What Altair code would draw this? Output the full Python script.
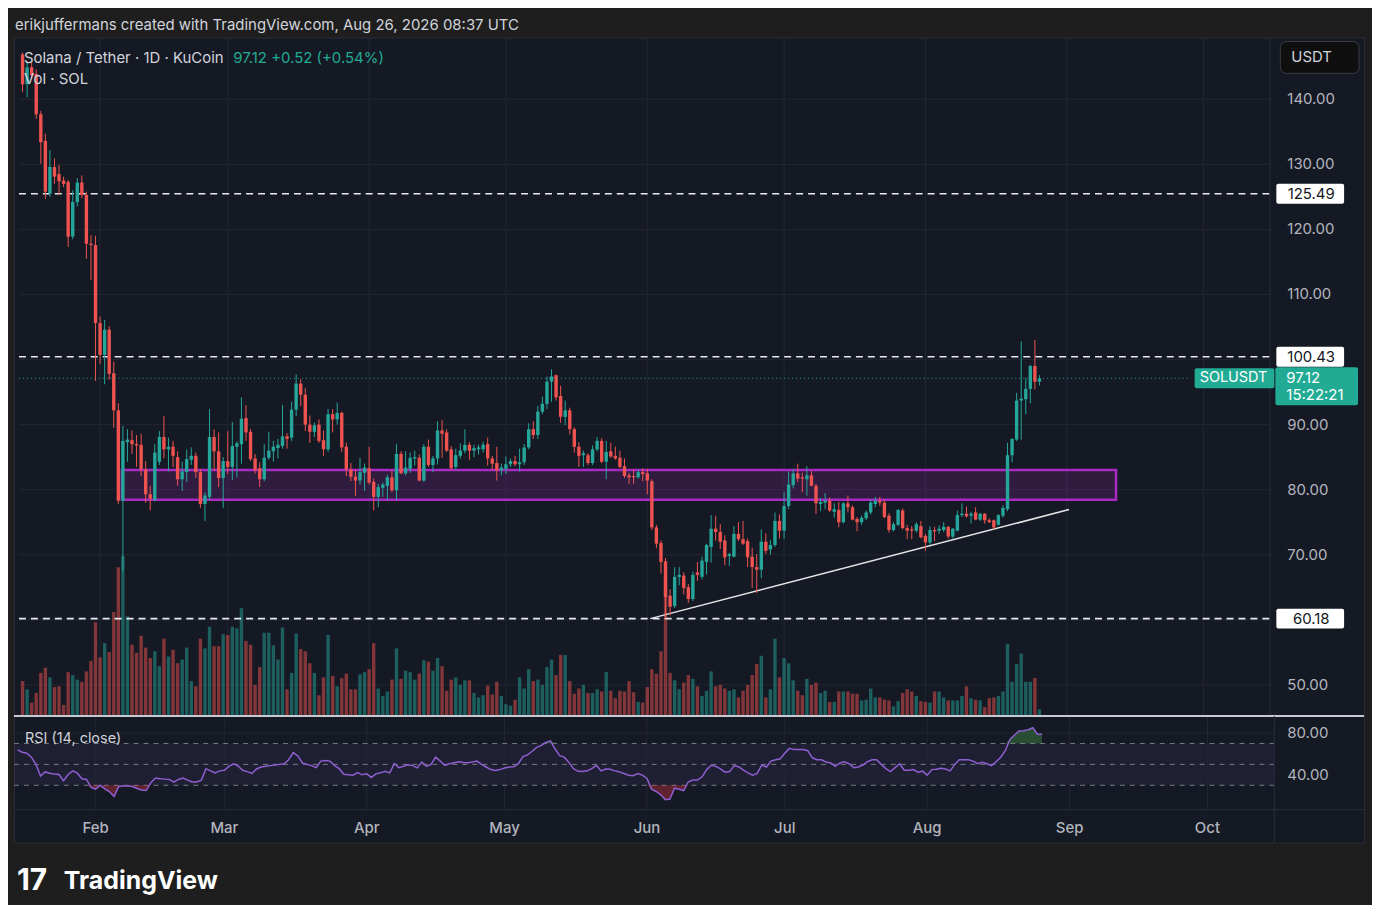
import altair as alt
import pandas as pd

# ---------------- data (SOL/USDT 1D, KuCoin) ----------------
FIRST_T = 14  # Jan 15 = day 14 of 2026 (Jan 1 = 0)

JAN = [(146.9,147.2,141.1,142.3),(142.3,145.6,140.3,144.9),(144.9,145.8,143.3,143.7),(143.9,144.6,137.0,137.7),
       (137.7,138.2,130.1,133.4),(133.6,134.7,124.7,125.8),(125.5,132.2,125.0,129.6),(129.6,130.9,127.0,128.1),
       (128.5,129.9,125.3,127.4),(127.5,128.1,126.5,127.0),(127.3,127.6,117.3,118.9),(118.9,126.0,118.5,124.2),
       (124.2,127.9,123.5,127.2),(127.2,128.3,124.8,125.3),(125.3,125.8,115.5,117.8),(117.8,119.1,112.2,117.6),
       (117.6,119.0,96.7,105.6)]
FEB = [(105.6,106.6,99.3,100.7),(100.7,106.1,96.2,104.6),(104.6,105.1,96.9,97.8),(97.9,99.7,89.5,92.2),
       (92.2,93.3,77.8,78.3),(78.3,89.8,67.5,87.5),(87.3,89.3,84.3,87.7),(87.6,89.1,85.5,87.0),
       (87.0,88.4,83.5,86.8),(86.9,88.6,82.1,83.1),(83.1,84.4,78.0,79.3),(79.3,80.6,76.8,78.6),
       (78.4,87.0,78.2,85.7),(84.3,89.0,83.8,88.1),(88.1,91.3,84.8,86.2),(86.2,88.0,82.8,86.6),
       (86.6,87.5,83.5,85.2),(85.0,85.9,80.6,81.6),(81.6,84.3,79.8,82.8),(82.7,86.2,81.2,84.7),
       (84.6,86.5,83.8,85.2),(85.2,85.7,81.8,82.7),(82.7,83.2,77.2,77.8),(77.8,79.6,75.2,79.1),
       (78.9,92.4,78.4,88.1),(88.1,89.3,82.9,85.9),(85.9,88.8,80.4,81.8),(81.8,85.0,77.2,84.4)]
MAR = [(84.4,89.0,82.4,83.5),(83.5,90.4,81.5,86.7),(86.6,87.4,81.9,87.1),(87.0,94.2,84.0,90.9),
       (91.0,93.0,87.5,88.8),(88.9,89.3,84.4,84.7),(84.8,85.5,82.5,83.0),(83.3,84.2,80.4,81.6),
       (81.6,87.0,81.3,84.9),(84.9,88.9,84.6,86.0),(85.9,87.5,84.3,86.6),(86.4,87.8,84.8,86.9),
       (86.7,93.0,86.3,88.2),(88.2,88.7,86.3,87.8),(88.0,93.5,87.5,92.3),(92.3,97.7,91.3,96.3),
       (96.3,97.0,92.8,94.6),(94.6,95.6,89.0,90.0),(90.0,91.4,87.2,88.9),(88.9,90.3,88.1,89.9),
       (90.0,90.8,87.2,87.5),(87.6,89.1,85.2,86.2),(86.2,92.4,85.8,91.6),(91.6,92.4,88.8,90.8),
       (90.8,93.4,90.0,91.8),(91.8,92.0,85.8,86.5),(86.6,87.2,82.1,83.1),(83.1,84.1,81.3,82.0),
       (82.0,83.1,79.0,81.4),(81.4,84.9,80.8,82.7),(82.6,84.0,79.8,83.4)]
APR = [(83.3,86.6,80.8,81.1),(81.2,81.7,76.8,78.9),(78.9,80.9,77.3,80.4),(80.3,81.1,78.9,80.8),
       (80.6,82.3,78.4,81.9),(81.9,83.0,79.6,79.9),(79.9,87.0,78.4,85.5),(85.5,85.9,82.4,82.5),
       (82.5,85.9,82.2,83.4),(83.2,85.7,82.6,84.9),(84.8,86.0,83.7,85.0),(84.9,85.4,81.3,81.4),
       (81.4,87.0,81.2,86.6),(86.6,87.7,83.5,83.8),(83.8,85.2,82.7,84.8),(84.8,90.5,83.9,89.1),
       (89.1,90.7,84.9,88.6),(88.8,89.3,85.8,86.0),(86.2,86.7,83.0,83.3),(83.5,86.3,83.0,85.3),
       (85.2,87.1,84.8,86.0),(86.0,89.3,85.6,86.9),(86.9,87.3,84.6,86.0),(86.0,86.9,85.0,86.4),
       (86.2,86.9,85.4,86.5),(86.2,87.4,85.7,86.9),(87.0,88.0,83.7,84.8),(84.8,85.2,83.0,84.0),
       (84.1,86.6,81.4,83.0),(83.0,84.0,82.2,83.4)]
MAY = [(83.2,85.1,82.4,83.9),(83.9,84.8,83.5,84.4),(84.4,85.2,83.6,83.9),(83.9,86.3,82.8,84.2),
       (84.2,87.0,83.8,86.5),(86.5,90.2,86.2,89.3),(89.3,90.5,87.8,88.4),(88.4,92.9,87.8,92.0),
       (92.0,94.3,91.6,93.2),(93.2,97.4,92.4,96.6),(96.6,98.5,93.5,97.4),(97.6,97.7,93.7,94.2),
       (94.4,96.0,90.3,91.2),(91.2,93.7,89.9,92.2),(92.2,92.6,88.5,89.3),(89.3,89.6,85.7,86.6),
       (86.6,87.3,83.5,85.2),(85.3,86.0,83.5,85.6),(85.3,85.6,83.8,84.1),(84.1,86.8,83.8,86.2),
       (86.2,88.1,85.9,87.5),(87.5,87.9,84.1,84.3),(84.3,87.5,81.6,85.8),(85.9,87.2,84.9,85.1),
       (85.2,86.6,84.6,84.8),(84.9,86.0,83.3,83.5),(83.6,84.8,81.8,82.1),(82.2,82.6,80.9,81.9),
       (82.1,83.1,80.9,81.9),(81.9,83.1,81.7,82.7),(82.7,83.3,81.3,82.4)]
JUN = [(82.5,83.2,79.3,81.4),(81.3,81.6,73.8,74.2),(74.2,74.6,71.0,71.7),(71.8,72.2,67.1,68.9),
       (69.0,69.5,60.2,63.5),(63.7,64.7,60.7,62.0),(62.1,68.1,61.8,66.6),(66.6,68.1,65.3,66.9),
       (66.8,67.3,63.9,64.9),(65.0,65.5,62.6,63.2),(63.2,67.4,62.9,66.9),(67.3,68.9,66.0,66.9),
       (66.6,69.7,66.2,69.1),(68.9,71.7,67.0,71.5),(71.2,76.1,68.8,74.0),(74.0,76.0,72.2,73.5),
       (73.5,74.7,70.9,72.0),(72.2,73.0,68.4,69.6),(69.8,70.3,68.3,70.1),(69.7,74.4,69.6,73.2),
       (73.2,75.0,72.1,72.4),(72.4,75.2,71.5,71.7),(72.1,72.5,68.1,69.6),(69.7,71.1,64.9,68.1),
       (68.1,70.1,64.1,67.7),(67.7,73.9,66.4,72.0),(72.0,73.3,70.1,70.6),(70.8,72.3,70.0,71.5),
       (71.5,76.5,71.2,75.2),(75.2,76.2,72.5,73.7)]
JUL = [(73.7,79.6,72.4,77.5),(77.5,82.8,77.0,80.8),(80.7,83.2,80.2,82.5),(82.5,84.0,81.2,81.7),
       (81.9,82.6,79.6,81.7),(81.6,83.6,79.1,82.2),(82.2,82.9,80.5,80.6),(80.6,80.9,76.3,77.9),
       (77.8,78.7,76.7,78.1),(78.0,79.5,77.0,78.3),(78.3,78.8,76.6,76.8),(76.6,77.9,75.7,77.0),
       (76.9,78.1,74.2,75.0),(75.0,78.1,74.8,77.9),(77.9,79.1,76.5,77.3),(77.3,77.6,75.3,75.4),
       (75.5,75.8,73.6,75.0),(75.0,76.0,74.6,75.7),(75.6,76.8,75.3,76.5),(76.5,78.5,76.2,78.0),
       (77.8,78.9,77.3,78.3),(78.3,78.9,77.5,78.0),(78.0,78.5,75.6,75.8),(76.0,76.4,73.4,73.8),
       (73.8,75.0,73.6,74.7),(74.6,77.0,74.4,76.9),(76.8,77.1,73.9,74.1),(74.1,74.6,72.4,73.7),
       (73.9,74.4,72.4,73.7),(73.7,75.0,73.4,74.7),(74.4,75.2,72.5,72.7)]
AUG = [(72.9,73.2,70.6,71.9),(71.9,74.4,71.5,73.8),(73.8,74.3,72.1,73.6),(73.7,74.5,73.2,74.0),
       (73.8,75.0,73.5,74.3),(74.3,74.4,72.5,72.8),(72.8,74.1,72.5,74.0),(73.7,76.8,73.6,76.1),
       (76.1,77.9,75.8,76.3),(76.3,77.4,75.7,75.9),(76.0,76.6,74.8,76.3),(76.5,77.3,75.3,75.4),
       (75.4,76.4,75.2,76.3),(76.3,76.4,74.8,75.3),(75.3,75.6,74.9,75.0),(75.3,75.4,73.9,74.2),
       (74.6,76.2,74.5,76.1),(76.0,77.6,75.7,77.2),(77.0,87.2,76.7,85.3),(85.3,87.9,84.2,87.8),
       (87.7,94.9,87.5,93.7),(93.7,102.8,87.7,94.0),(93.9,97.2,91.6,95.5),(95.5,99.2,93.3,99.0),
       (99.0,103.0,95.4,96.6),(96.6,97.6,96.0,97.12)]

VOL_JAN = [47,36,18,31,58,65,52,39,40,15,59,55,49,46,60,74,126]
VOL_FEB = [79,98,86,140,200,215,134,96,85,108,92,78,87,67,104,80,89,71,76,92,47,40,104,91,120,94,94,110]
VOL_MAR = [109,120,118,145,101,96,42,66,112,112,95,76,119,36,58,111,90,87,71,58,28,52,109,54,40,51,57,36,36,56,59]
VOL_APR = [63,98,37,27,33,49,91,50,61,59,49,57,75,73,61,78,67,34,49,52,42,48,48,31,25,28,41,29,46,27]
VOL_MAY = [16,14,22,52,37,63,47,49,42,66,76,55,82,82,47,30,37,42,31,31,36,33,59,34,24,34,33,47,32,19,18]
VOL_JUN = [39,63,57,87,187,58,48,36,45,55,50,40,27,34,60,40,42,37,34,36,25,34,42,55,70,81,25,36,104,52]
VOL_JUL = [78,71,48,34,28,50,42,45,31,34,19,19,33,33,33,30,30,21,22,37,25,25,22,21,13,20,31,36,33,27,20]
VOL_AUG = [19,18,33,33,25,21,21,21,27,40,24,22,21,12,24,25,27,33,97,46,70,84,46,46,51,9]

RSI_JAN = [63.8,61.6,60.6,56.9,50.0,38.8,42.8,41.6,40.9,40.3,34.4,40.3,43.8,41.6,36.3,35.6,28.1]
RSI_FEB = [26.3,30.0,26.6,23.8,19.4,28.8,29.4,29.4,28.8,26.9,25.6,25.0,32.5,36.9,36.3,35.9,35.6,33.1,35.6,36.9,
           35.0,33.1,33.1,35.0,45.9,43.8,41.9,43.8]
RSI_MAR = [44.4,48.1,50.6,48.4,44.4,43.1,41.3,45.6,47.5,48.1,48.8,49.4,50.0,50.6,54.4,61.3,58.1,51.3,50.0,48.8,
           46.9,53.1,53.8,53.1,48.8,45.9,40.6,40.0,39.7,42.2,40.0]
RSI_APR = [40.9,37.5,40.9,41.9,43.4,41.9,50.6,46.9,48.1,49.7,48.8,46.6,52.2,48.1,50.0,56.9,53.1,49.1,50.6,51.6,
           52.5,51.9,51.6,52.2,53.1,50.0,47.5,45.0,44.1,45.0]
RSI_MAY = [46.6,47.5,47.8,50.6,57.5,59.1,62.5,66.3,68.1,70.9,72.5,64.7,58.4,56.9,51.9,45.9,43.4,43.1,43.8,45.9,
           49.1,43.8,45.6,45.3,43.8,42.8,41.3,39.7,39.1,41.3,39.7]
RSI_JUN = [36.6,26.3,24.1,20.9,16.3,16.9,27.2,26.3,25.0,33.4,35.0,35.0,38.1,45.0,49.1,48.1,45.6,42.5,43.1,48.8,
           47.5,44.4,41.9,39.7,41.3,49.4,47.5,53.1,54.4,55.3]
RSI_JUL = [60.6,65.3,64.1,64.1,64.1,63.1,56.3,54.4,54.4,52.2,51.3,48.1,51.3,52.5,50.6,46.9,47.5,49.4,52.5,54.4,
           54.4,50.0,45.9,43.1,46.9,50.6,44.4,44.4,45.0,42.5,43.5]
RSI_AUG = [39.7,45.0,45.3,46.3,45.6,43.8,50.0,54.4,54.4,54.4,53.1,50.6,51.9,50.6,48.8,52.5,56.9,63.1,73.8,78.1,
           81.9,82.2,83.1,85.0,78.8,78.8]

LEVELS = [125.49, 100.43, 60.18]
LAST_PRICE = 97.12
ZONE = {"t1": 35.77, "t2": 253.8, "top": 83.03, "bot": 78.44}
TREND = {"t1": 151.65, "p1": 60.18, "t2": 243.5, "p2": 76.95}
MONTH_T = [31, 59, 90, 120, 151, 181, 212, 243, 273]
MONTH_NAMES = ["Feb", "Mar", "Apr", "May", "Jun", "Jul", "Aug", "Sep", "Oct"]
PRICE_GRID = [50, 60, 70, 80, 90, 100, 110, 120, 130, 140]
PRICE_LABELS = [50, 70, 80, 90, 110, 120, 130, 140]
RSI_TICKS = [80, 40]
RSI_LEVELS = [70, 50, 30]

# ---------------- layout constants ----------------
W, MAIN_H, RSI_H = 1355, 681, 127
T_MIN, T_MAX, T_AXIS = 13.21, 307.09, 287.56
P_DOM = [45.21, 149.49]
RSI_DOM = [-24.76, 96.19]
RSI_SEP = 6.67
VOL_DOM = [0, 912]

TEAL, RED = "#26a69a", "#ef5350"
PANE, OUTER, BORDER, GRID = "#151924", "#1e1e1e", "#2a2e39", "#222632"
TXT, AX = "#d1d4dc", "#b2b5be"

ohlc = JAN + FEB + MAR + APR + MAY + JUN + JUL + AUG
vol = VOL_JAN + VOL_FEB + VOL_MAR + VOL_APR + VOL_MAY + VOL_JUN + VOL_JUL + VOL_AUG
rsi = RSI_JAN + RSI_FEB + RSI_MAR + RSI_APR + RSI_MAY + RSI_JUN + RSI_JUL + RSI_AUG
n = min(len(ohlc), len(vol), len(rsi))

df = pd.DataFrame({
    "t": [FIRST_T + i for i in range(n)],
    "o": [r[0] for r in ohlc[:n]],
    "h": [r[1] for r in ohlc[:n]],
    "l": [r[2] for r in ohlc[:n]],
    "c": [r[3] for r in ohlc[:n]],
    "v": vol[:n],
    "rsi": rsi[:n],
})
df["dir"] = ["up" if c >= o else "down" for o, c in zip(df["o"], df["c"])]

xs = alt.Scale(domain=[T_MIN, T_MAX], nice=False, zero=False)
yP = alt.Scale(domain=P_DOM, nice=False, zero=False)
yR = alt.Scale(domain=RSI_DOM, nice=False, zero=False)
col = alt.Color("dir:N", scale=alt.Scale(domain=["up", "down"], range=[TEAL, RED]), legend=None)


def X(f):
    return alt.X(f, scale=xs, axis=None, title=None)


def YP(f):
    return alt.Y(f, scale=yP, axis=None, title=None)


def YR(f):
    return alt.Y(f, scale=yR, axis=None, title=None)


def label(text, x, y, color=TXT, size=14, align="left", weight="normal"):
    return alt.Chart(alt.Data(values=[{"s": text}])).mark_text(
        align=align, baseline="middle", color=color, fontSize=size, fontWeight=weight
    ).encode(x=alt.value(x), y=alt.value(y), text="s:N")


# ---------------- main pane ----------------
grid_h = alt.Chart(pd.DataFrame({"p": PRICE_GRID, "t1": T_MIN, "t2": T_AXIS})).mark_rule(
    color=GRID, strokeWidth=1).encode(x=X("t1:Q"), x2="t2:Q", y=YP("p:Q"))
grid_v = alt.Chart(pd.DataFrame({"t": MONTH_T, "p1": P_DOM[0], "p2": P_DOM[1]})).mark_rule(
    color=GRID, strokeWidth=1).encode(x=X("t:Q"), y=YP("p1:Q"), y2="p2:Q")
back = alt.layer(grid_h, grid_v)

volume = alt.Chart(df).mark_bar(size=3.4, opacity=0.5).encode(
    x=X("t:Q"), y=alt.Y("v:Q", scale=alt.Scale(domain=VOL_DOM, nice=False), axis=None, title=None), color=col)

zone = alt.Chart(pd.DataFrame([ZONE])).mark_rect(
    fill="#9c27b0", fillOpacity=0.2, stroke="#a82bc4", strokeWidth=2.5).encode(
    x=X("t1:Q"), x2="t2:Q", y=YP("top:Q"), y2="bot:Q")

levels = alt.Chart(pd.DataFrame({"p": LEVELS, "t1": T_MIN, "t2": T_AXIS})).mark_rule(
    color="#e8eaef", strokeWidth=1.6, strokeDash=[7, 5]).encode(x=X("t1:Q"), x2="t2:Q", y=YP("p:Q"))

trend = alt.Chart(pd.DataFrame([TREND])).mark_rule(color="#e6e6e6", strokeWidth=1.5).encode(
    x=X("t1:Q"), x2="t2:Q", y=YP("p1:Q"), y2="p2:Q")

wicks = alt.Chart(df).mark_rule(strokeWidth=1).encode(x=X("t:Q"), y=YP("l:Q"), y2="h:Q", color=col)
bodies = alt.Chart(df).mark_bar(size=3.4).encode(x=X("t:Q"), y=YP("o:Q"), y2="c:Q", color=col)

last_line = alt.Chart(pd.DataFrame({"p": [LAST_PRICE], "t1": T_MIN, "t2": 270.2})).mark_rule(
    color=TEAL, strokeWidth=1, strokeDash=[1, 3]).encode(x=X("t1:Q"), x2="t2:Q", y=YP("p:Q"))

vsep_main = alt.Chart(pd.DataFrame({"t": [T_AXIS], "p1": P_DOM[0], "p2": P_DOM[1]})).mark_rule(
    color=BORDER, strokeWidth=1).encode(x=X("t:Q"), y=YP("p1:Q"), y2="p2:Q")

plab = pd.DataFrame({"p": PRICE_LABELS})
plab["label"] = [f"{p:.2f}" for p in PRICE_LABELS]
price_labels = alt.Chart(plab).mark_text(color=AX, fontSize=15, align="left", baseline="middle").encode(
    x=alt.value(1278), y=YP("p:Q"), text="label:N")

lv = pd.DataFrame({"p": LEVELS})
lv["top"] = lv["p"] + 1.53
lv["bot"] = lv["p"] - 1.53
lv["label"] = [f"{p:.2f}" for p in LEVELS]
lv_box = alt.Chart(lv).mark_rect(fill="#ffffff", cornerRadius=2).encode(
    x=alt.value(1267), x2=alt.value(1335), y=YP("top:Q"), y2="bot:Q")
lv_txt = alt.Chart(lv).mark_text(color="#131722", fontSize=15, align="center", baseline="middle").encode(
    x=alt.value(1302), y=YP("p:Q"), text="label:N")

lp = pd.DataFrame({"p": [LAST_PRICE], "top": [98.65], "bot": [95.59], "top2": [98.81], "bot2": [92.99],
                   "p2": [94.52], "name": ["SOLUSDT"], "price": [f"{LAST_PRICE:.2f}"], "timer": ["15:22:21"]})
sym_box = alt.Chart(lp).mark_rect(fill="#22ab94", cornerRadius=2).encode(
    x=alt.value(1185), x2=alt.value(1265), y=YP("top:Q"), y2="bot:Q")
sym_txt = alt.Chart(lp).mark_text(color="#ffffff", fontSize=14.5, align="left", baseline="middle").encode(
    x=alt.value(1190), y=YP("p:Q"), text="name:N")
pr_box = alt.Chart(lp).mark_rect(fill="#22ab94", cornerRadius=2).encode(
    x=alt.value(1266), x2=alt.value(1349), y=YP("top2:Q"), y2="bot2:Q")
pr_txt = alt.Chart(lp).mark_text(color="#ffffff", fontSize=15, align="left", baseline="middle").encode(
    x=alt.value(1277), y=YP("p:Q"), text="price:N")
tm_txt = alt.Chart(lp).mark_text(color="#ffffff", fontSize=15, align="left", baseline="middle").encode(
    x=alt.value(1277), y=YP("p2:Q"), text="timer:N")

usdt_box = alt.Chart(alt.Data(values=[{}])).mark_rect(
    fill="#0f0f0f", stroke="#3a3d45", strokeWidth=1, cornerRadius=6).encode(
    x=alt.value(1271), x2=alt.value(1350), y=alt.value(4), y2=alt.value(36))

front = alt.layer(
    zone, levels, trend, wicks, bodies, last_line, vsep_main, price_labels,
    lv_box, lv_txt, sym_box, sym_txt, pr_box, pr_txt, tm_txt, usdt_box,
    label("USDT", 1282, 20, size=15),
    label("erikjuffermans created with TradingView.com, Aug 26, 2026 08:37 UTC", 1, -13, size=15),
    label("Solana / Tether · 1D · KuCoin", 10, 21, size=15),
    label("97.12  +0.52 (+0.54%)", 220, 21, color="#22ab94", size=15),
    label("Vol · SOL", 10, 42, size=15),
)

main = alt.layer(back, volume, front).resolve_scale(y="independent").properties(width=W, height=MAIN_H)

# ---------------- RSI pane ----------------
band = alt.Chart(pd.DataFrame({"t1": [T_MIN], "t2": [T_AXIS], "lo": [30], "hi": [70]})).mark_rect(
    fill="#7e57c2", fillOpacity=0.1).encode(x=X("t1:Q"), x2="t2:Q", y=YR("lo:Q"), y2="hi:Q")
rgrid_h = alt.Chart(pd.DataFrame({"r": RSI_TICKS, "t1": T_MIN, "t2": T_AXIS})).mark_rule(
    color=GRID, strokeWidth=1).encode(x=X("t1:Q"), x2="t2:Q", y=YR("r:Q"))
rgrid_v = alt.Chart(pd.DataFrame({"t": MONTH_T, "r1": RSI_SEP, "r2": RSI_DOM[1]})).mark_rule(
    color=GRID, strokeWidth=1).encode(x=X("t:Q"), y=YR("r1:Q"), y2="r2:Q")
rlev = alt.Chart(pd.DataFrame({"r": RSI_LEVELS, "t1": T_MIN, "t2": T_AXIS})).mark_rule(
    color="#787b86", strokeWidth=1, strokeDash=[5, 5]).encode(x=X("t1:Q"), x2="t2:Q", y=YR("r:Q"))
ob = alt.Chart(df).transform_calculate(hi="max(datum.rsi, 70)", base="70").mark_area(
    color="#4caf50", opacity=0.35).encode(x=X("t:Q"), y=YR("hi:Q"), y2="base:Q")
os_ = alt.Chart(df).transform_calculate(lo="min(datum.rsi, 30)", base="30").mark_area(
    color="#f23645", opacity=0.35).encode(x=X("t:Q"), y=YR("lo:Q"), y2="base:Q")
rline = alt.Chart(df).mark_line(color="#8e5fd0", strokeWidth=1.5).encode(x=X("t:Q"), y=YR("rsi:Q"))
sep_top = alt.Chart(pd.DataFrame({"t1": [T_MIN], "t2": [T_MAX], "r": [RSI_DOM[1]]})).mark_rule(
    color="#c8cad1", strokeWidth=2).encode(x=X("t1:Q"), x2="t2:Q", y=YR("r:Q"))
sep_time = alt.Chart(pd.DataFrame({"t1": [T_MIN], "t2": [T_MAX], "r": [RSI_SEP]})).mark_rule(
    color=BORDER, strokeWidth=1).encode(x=X("t1:Q"), x2="t2:Q", y=YR("r:Q"))
vsep_rsi = alt.Chart(pd.DataFrame({"t": [T_AXIS], "r1": RSI_DOM[0], "r2": RSI_DOM[1]})).mark_rule(
    color=BORDER, strokeWidth=1).encode(x=X("t:Q"), y=YR("r1:Q"), y2="r2:Q")

rlab = pd.DataFrame({"r": RSI_TICKS})
rlab["label"] = [f"{r:.2f}" for r in RSI_TICKS]
rsi_labels = alt.Chart(rlab).mark_text(color=AX, fontSize=15, align="left", baseline="middle").encode(
    x=alt.value(1278), y=YR("r:Q"), text="label:N")

mlab = pd.DataFrame({"t": MONTH_T, "label": MONTH_NAMES})
month_labels = alt.Chart(mlab).mark_text(color=AX, fontSize=15, fontWeight=500, align="center",
                                         baseline="middle").encode(x=X("t:Q"), y=alt.value(112), text="label:N")

rsi_chart = alt.layer(
    band, rgrid_h, rgrid_v, rlev, ob, os_, rline, sep_top, sep_time, vsep_rsi, rsi_labels, month_labels,
    label("RSI (14, close)", 11, 23, size=14.5),
    label("17", 3, 166, color="#ffffff", size=30, weight="bold"),
    label("TradingView", 50, 166, color="#ffffff", size=25, weight="bold"),
).properties(width=W, height=RSI_H)

chart = alt.vconcat(main, rsi_chart, spacing=0, bounds="flush").properties(
    background=OUTER,
    padding={"left": 4, "top": 7, "right": 6, "bottom": 6},
    usermeta={"embedOptions": {"defaultStyle": "body{background:#1e1e1e;}"}},
).configure(font="Inter").configure_view(fill=PANE, stroke=BORDER, strokeWidth=1)

chart.save("out.html", embed_options={"renderer": "svg", "actions": False})
